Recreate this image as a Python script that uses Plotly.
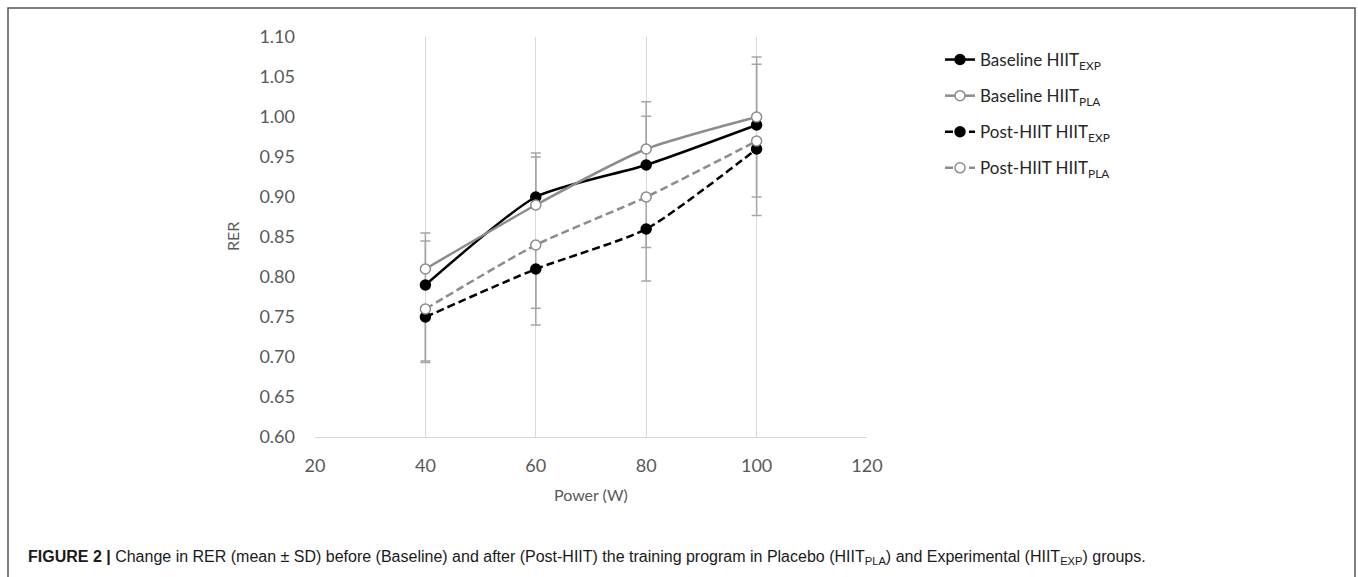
import plotly.graph_objects as go

# ---- data ----
power = [40, 60, 80, 100]
baseline_exp = [0.79, 0.90, 0.94, 0.99]
baseline_pla = [0.81, 0.89, 0.96, 1.00]
post_exp = [0.75, 0.81, 0.86, 0.96]
post_pla = [0.76, 0.84, 0.90, 0.97]

# SD (baseline shown upward, post-HIIT shown downward)
sd_baseline_exp = [0.055, 0.055, 0.061, 0.076]
sd_baseline_pla = [0.045, 0.060, 0.059, 0.075]
sd_post_exp = [0.057, 0.070, 0.065, 0.083]
sd_post_pla = [0.065, 0.079, 0.063, 0.070]

names = ["Baseline HIIT<sub>EXP</sub>", "Baseline HIIT<sub>PLA</sub>",
         "Post-HIIT HIIT<sub>EXP</sub>", "Post-HIIT HIIT<sub>PLA</sub>"]
x_ticks = [20, 40, 60, 80, 100, 120]
y_ticks = [0.60, 0.65, 0.70, 0.75, 0.80, 0.85, 0.90, 0.95, 1.00, 1.05, 1.10]

caption = ("<b>FIGURE 2 |</b> Change in RER (mean ± SD) before (Baseline) and after (Post-HIIT) "
           "the training program in Placebo (HIIT<sub>PLA</sub>) and Experimental (HIIT<sub>EXP</sub>) groups.")

BLACK = "#000000"
GRAY = "#8c8c8c"
ERR = "#a6a6a6"
CHART_FONT = "Lato"

fig = go.Figure()

series = [
    (baseline_exp, sd_baseline_exp, True, BLACK, "solid", BLACK),
    (baseline_pla, sd_baseline_pla, True, GRAY, "solid", "#ffffff"),
    (post_exp, sd_post_exp, False, BLACK, "8px,4px", BLACK),
    (post_pla, sd_post_pla, False, GRAY, "8px,4px", "#ffffff"),
]

# error bars first (beneath lines)
for vals, sd, up, col, dash, fill in series:
    zeros = [0] * len(sd)
    fig.add_trace(go.Scatter(
        x=power, y=vals, mode="markers",
        marker=dict(size=1, opacity=0),
        error_y=dict(type="data", symmetric=False,
                     array=sd if up else zeros,
                     arrayminus=zeros if up else sd,
                     color=ERR, thickness=1.5, width=5),
        showlegend=False, hoverinfo="skip"))

for i, (vals, sd, up, col, dash, fill) in enumerate(series):
    fig.add_trace(go.Scatter(
        x=power, y=vals, mode="lines+markers", name=names[i],
        legendgroup=f"g{i}",
        line=dict(color=col, width=2.5, dash=dash, shape="spline", smoothing=0.6),
        marker=dict(size=10, color=fill, line=dict(color=col, width=1.5)),
    ))

L, R, T, B = 315, 1358 - 867, 37, 577 - 437
pw, ph = 1358 - L - R, 577 - T - B

def px_x(p):
    return (p - L) / pw

def px_y(p):
    return (577 - B - p) / ph

fig.update_layout(
    width=1358, height=577,
    margin=dict(l=L, r=R, t=T, b=B, autoexpand=False),
    paper_bgcolor="white", plot_bgcolor="white",
    font=dict(family=CHART_FONT, color="#595959", size=16),
    showlegend=True,
    legend=dict(x=px_x(940), y=px_y(42), xanchor="left", yanchor="top",
                font=dict(family=CHART_FONT, size=17, color="#262626"),
                tracegroupgap=11, bgcolor="rgba(0,0,0,0)"),
    xaxis=dict(range=[20, 120], tickvals=x_ticks, showgrid=True, gridcolor="#d9d9d9",
               gridwidth=1, zeroline=False, showline=True, linecolor="#d9d9d9",
               ticks="", ticklabelstandoff=12, automargin=False,
               tickfont=dict(size=18, color="#595959")),
    yaxis=dict(range=[0.60, 1.10], tickvals=y_ticks, tickformat=".2f", showgrid=False,
               zeroline=False, showline=False, ticks="", ticklabelstandoff=19,
               automargin=False, tickfont=dict(size=18, color="#595959")),
    annotations=[
        dict(text="RER", textangle=-90, x=px_x(232), y=px_y(237), xref="paper", yref="paper",
             xanchor="center", yanchor="middle",
             showarrow=False, font=dict(size=16, color="#595959", family=CHART_FONT)),
        dict(text="Power (W)", x=px_x(591), y=px_y(494), xref="paper", yref="paper",
             xanchor="center", yanchor="middle",
             showarrow=False, font=dict(size=16, color="#595959", family=CHART_FONT)),
        dict(text=caption, x=px_x(26), y=px_y(557), xref="paper", yref="paper",
             xanchor="left", yanchor="middle", showarrow=False, align="left",
             font=dict(size=16, color="#1a1a1a", family="Liberation Sans")),
    ],
    shapes=[
        dict(type="rect", xref="paper", yref="paper",
             x0=px_x(8), x1=px_x(1355), y0=px_y(8), y1=px_y(600),
             line=dict(color="#555555", width=1.5), fillcolor="rgba(0,0,0,0)", layer="above"),
    ],
)

fig.write_html("out.html", config={"displayModeBar": False},
               post_script="document.body.style.margin='0px';")
